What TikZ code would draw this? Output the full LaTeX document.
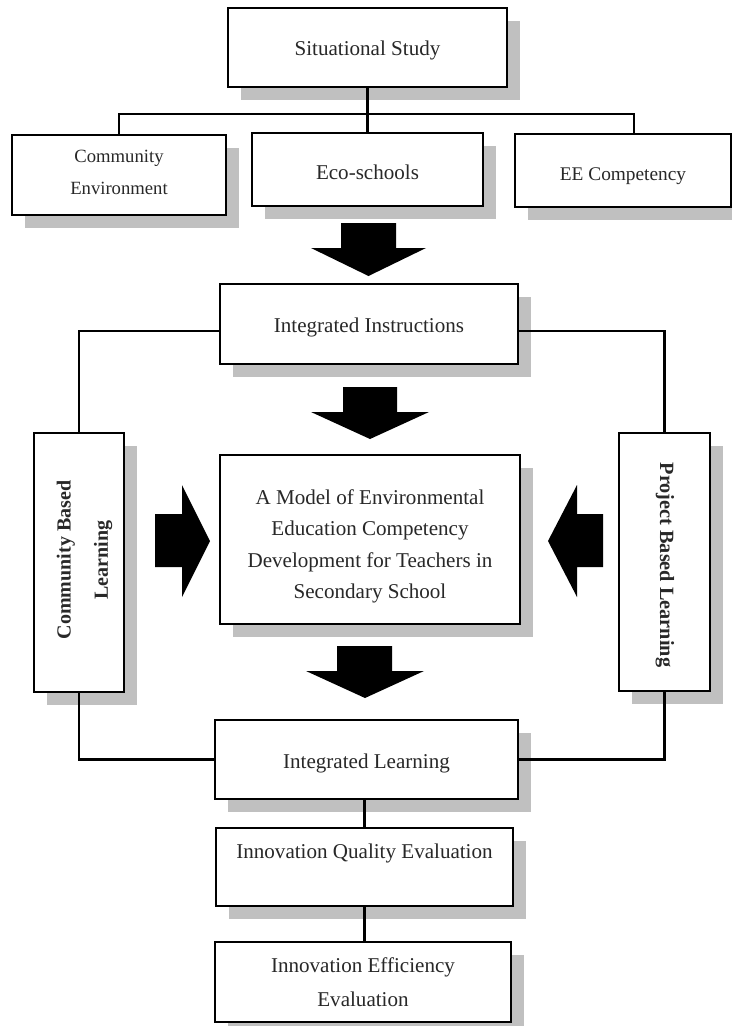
\documentclass[tikz,border=0pt]{standalone}
\usepackage{fontspec}
\setmainfont{Liberation Serif}
\usetikzlibrary{shadows}
\definecolor{shadowgray}{RGB}{192,192,192}
\definecolor{txt}{RGB}{40,40,40}
\begin{document}
\begin{tikzpicture}[x=0.75pt,y=-0.75pt,
  box/.style={draw=black, line width=2.2pt, fill=white, inner sep=0pt, align=center,
    text=txt, font=\fontsize{15.8}{23.6}\selectfont,
    drop shadow={shadow xshift=9.5pt, shadow yshift=-9.5pt, fill=shadowgray, opacity=1}},
  sz/.style 2 args={minimum width=#1*0.75pt, minimum height=#2*0.75pt},
  th/.style={text height=#1},
  vtext/.style={text=txt, align=center, inner sep=0pt},
  link/.style={line width=2pt, draw=black},
  barrow/.style={fill=black, draw=none}
]
\useasboundingbox (0,0) rectangle (732,1026);

% boxes
\node[box, sz={279}{79}, th=15pt] (sit) at (367.5,47.5) {Situational Study};
\node[box, sz={214}{80}, font=\fontsize{14}{24}\selectfont, text depth=3.5pt] (ce) at (119,175) {Community\\Environment};
\node[box, sz={231}{73}, th=15.4pt] (eco) at (367.5,169.5) {Eco-schools};
\node[box, sz={216}{73}, font=\fontsize{14.5}{20}\selectfont, th=18pt] (ee) at (623,170.5) {EE Competency};
\node[box, sz={298}{80}, th=16pt] (ii) at (369,324) {Integrated Instructions};
\node[box, sz={90}{259}] (cbl) at (79,562.5) {};
\node[box, sz={91}{258}] (pbl) at (664.5,562) {};
\node[box, sz={300}{169}, th=92pt] (main) at (370,539.5) {A Model of Environmental\\Education Competency\\Development for Teachers in\\Secondary School};
\node[box, sz={303}{79}, th=17pt] (il) at (366.5,759.5) {Integrated Learning};
\node[box, sz={297}{78}, font=\fontsize{15.8}{24}\selectfont] (iqe) at (364.5,867) {Innovation Quality Evaluation\\\mbox{}};
\node[box, sz={296}{80}, font=\fontsize{15.8}{25.5}\selectfont] (iee) at (363,982) {Innovation Efficiency\\Evaluation};

% rotated texts
\node[vtext, rotate=90, font=\fontsize{15}{28}\selectfont\bfseries] (cbltext) at (84.5,560)
  {Community Based\\Learning};
\node[vtext, rotate=-90, font=\fontsize{15.2}{20}\selectfont\bfseries] (pbltext) at (665,565)
  {Project Based Learning};

% connectors
\coordinate (bar) at (367.5,114);
\coordinate (eedrop) at (634,114);
\draw[link] (sit.south) -- (eco.north);
\draw[link] (ce.north) -- (ce.north |- bar) -- (eedrop) -- (eedrop |- ee.north);
\draw[link] ([yshift=-5.25pt]ii.west) -| (cbl.north);
\draw[link] ([yshift=-5.25pt]ii.east) -| (pbl.north);
\draw[link] (cbl.south) |- (il.west);
\draw[link] (pbl.south) |- (il.east);
\draw[link] (iqe.north |- il.south) -- (iqe.north);
\draw[link] (iqe.south) -- (iqe.south |- iee.north);

% block arrows
\fill[barrow] (341,223) -- (396,223) -- (396,248) -- (426,248) -- (368.5,276) -- (311,248) -- (341,248) -- cycle;
\fill[barrow] (343,387) -- (397,387) -- (397,412) -- (429,412) -- (370,439) -- (311,412) -- (343,412) -- cycle;
\fill[barrow] (337,646) -- (392,646) -- (392,671) -- (424,671) -- (365,698) -- (306,671) -- (337,671) -- cycle;
\fill[barrow] (155,514) -- (182,514) -- (182,485) -- (210,541) -- (182,597) -- (182,567) -- (155,567) -- cycle;
\fill[barrow] (603,514) -- (577,514) -- (577,485) -- (548,541) -- (577,597) -- (577,567) -- (603,567) -- cycle;
\end{tikzpicture}
\end{document}
